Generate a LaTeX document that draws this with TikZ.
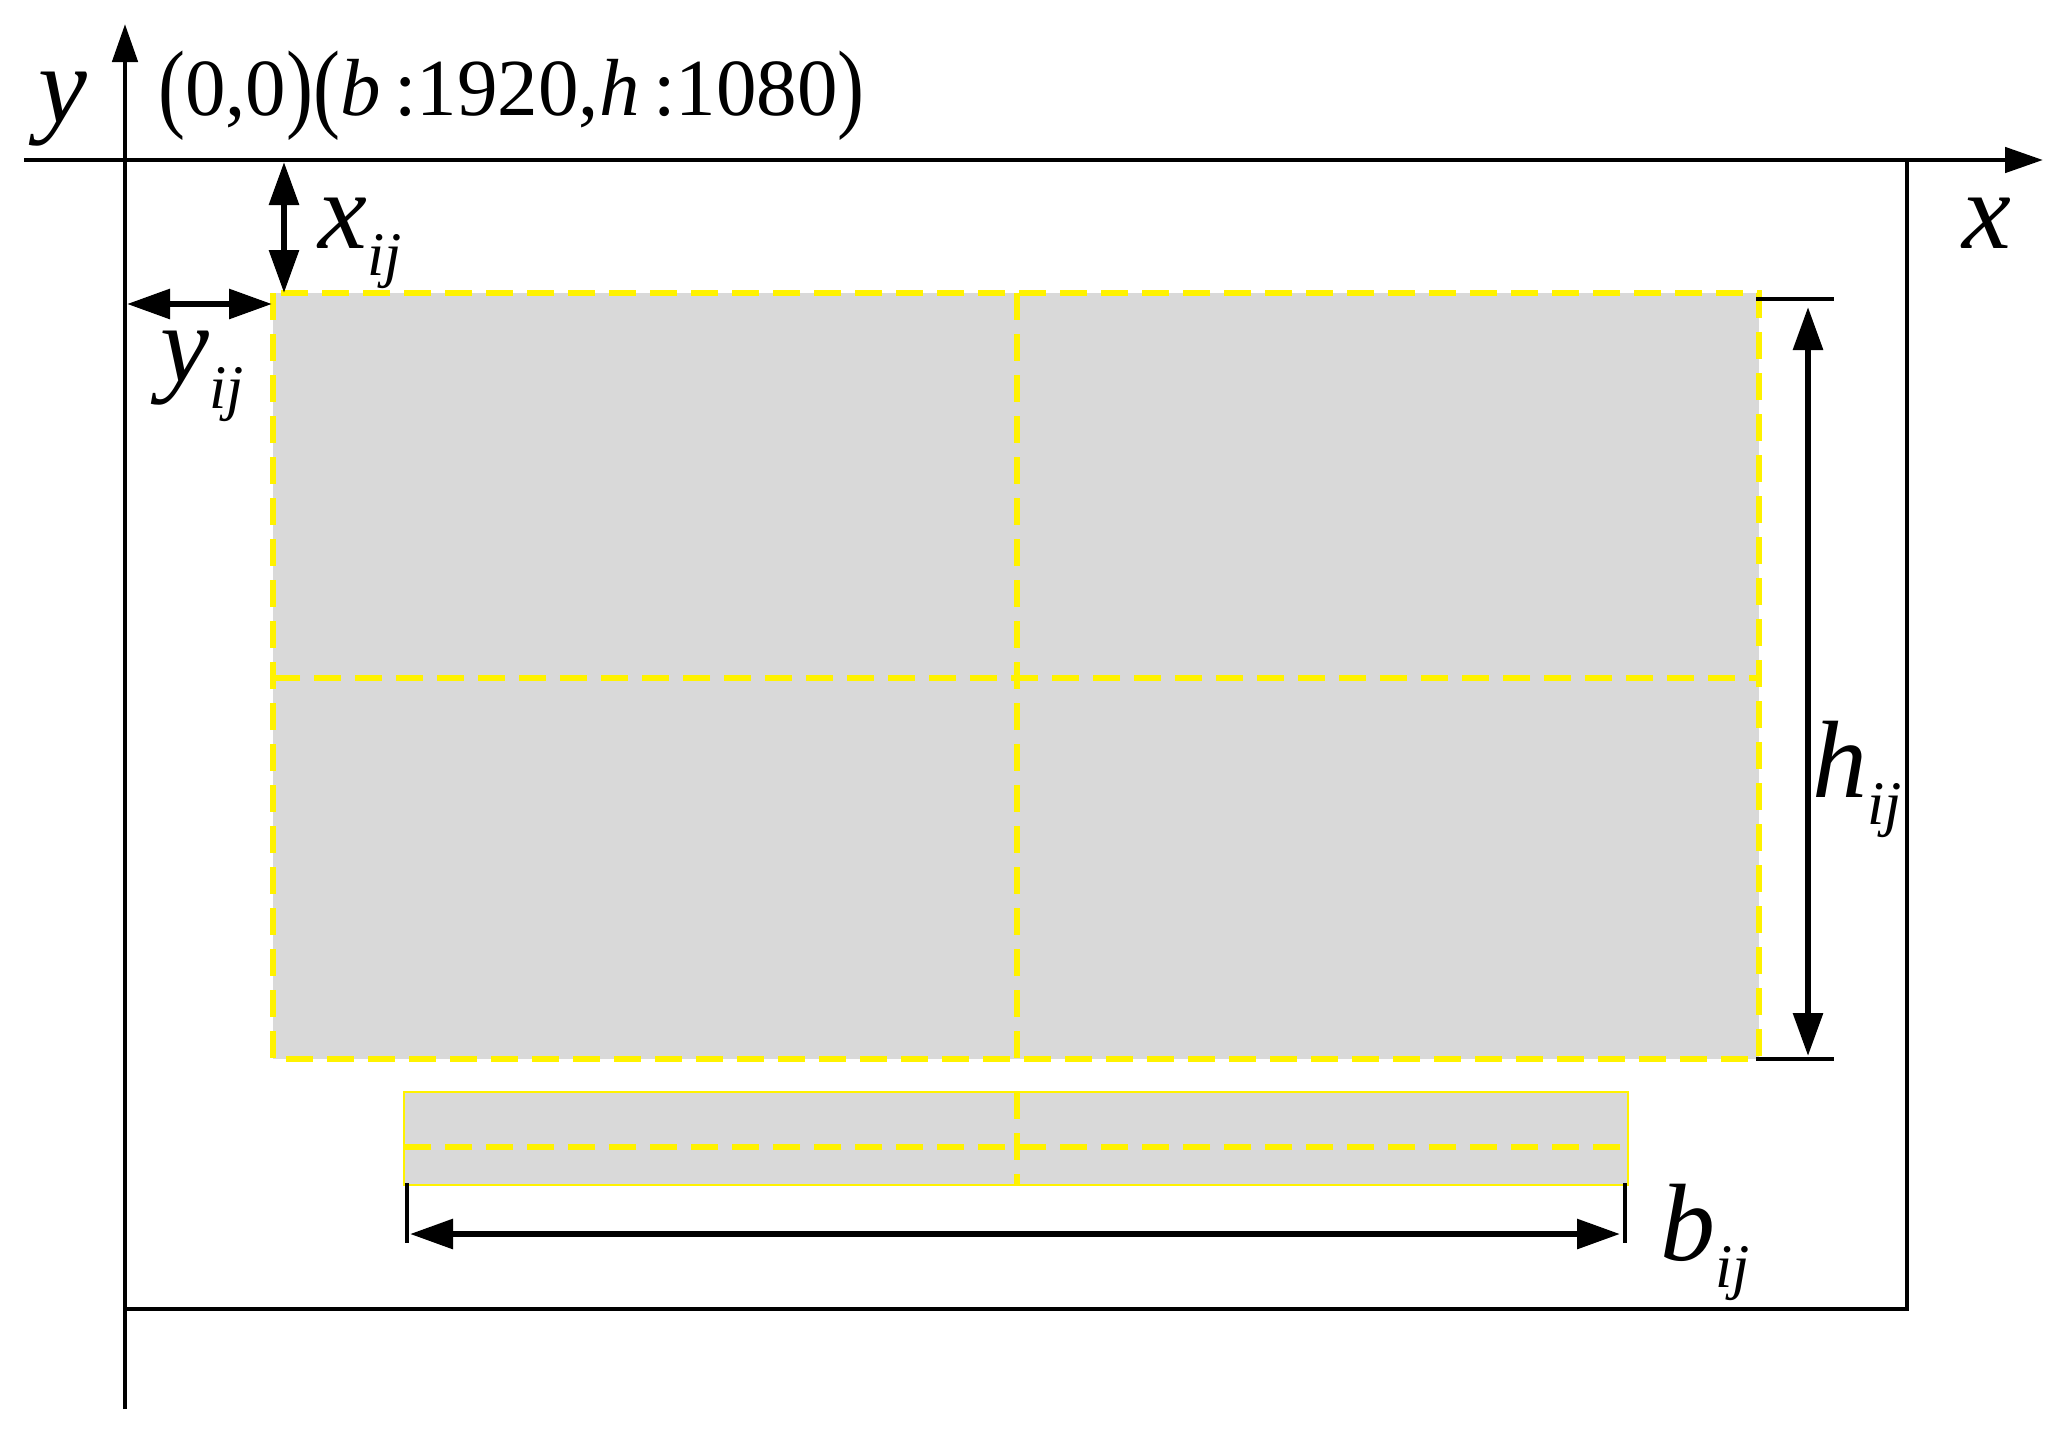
\documentclass[tikz,border=0pt]{standalone}
\usepackage{fontspec}
\usepackage{graphicx}
\setmainfont{Liberation Serif}
\usetikzlibrary{arrows.meta}
\definecolor{panelgray}{RGB}{217,217,217}
\newcommand\mysubij[1]{\raisebox{-27pt}{\fontsize{62}{62}\selectfont\itshape #1}}
\newcommand\tallparen[1]{\raisebox{-4pt}{\scalebox{1}[1.22]{#1}}}
\begin{document}
\begin{tikzpicture}[x=1pt,y=-1pt,
  axisline/.style={line width=4.8pt,-{Triangle[length=38pt,width=25pt]}},
  dimarrow/.style={line width=6pt,{Triangle[length=43pt,width=29pt]}-{Triangle[length=43pt,width=29pt]}},
  extline/.style={line width=4.8pt},
  frameline/.style={line width=4.8pt},
  ydash/.style={draw=yellow,line width=5.5pt,dash pattern=on 27pt off 14pt},
  biglbl/.style={inner sep=0pt,anchor=base west,font=\fontsize{110}{110}\selectfont\itshape},
  coordlbl/.style={inner sep=0pt,anchor=base west,font=\fontsize{81}{81}\selectfont}
]
\useasboundingbox (0,0) rectangle (2069,1432);
% coordinates
\coordinate (yTop) at (125,24);
\coordinate (yBot) at (125,1409);
\coordinate (xLeft) at (24,160);
\coordinate (xRight) at (2043,160);
\coordinate (sTR) at (1907,160);
\coordinate (sBR) at (1907,1309);
\coordinate (sBL) at (125,1309);
\coordinate (pTL) at (273,293);
\coordinate (pBR) at (1759,1059);
\coordinate (pTM) at (1017,293);
\coordinate (pBM) at (1017,1059);
\coordinate (pLM) at (273,678);
\coordinate (pRM) at (1759,678);
\coordinate (bTL) at (404,1092);
\coordinate (bBR) at (1628,1185);
\coordinate (bTM) at (1017,1092);
\coordinate (bBM) at (1017,1185);
\coordinate (bLM) at (404,1147);
\coordinate (bRM) at (1628,1147);
% panels
\fill[panelgray] (pTL) rectangle (pBR);
\draw[ydash] (pTL) rectangle (pBR);
\draw[ydash] (pTM) -- (pBM);
\draw[ydash] (pLM) -- (pRM);
\fill[panelgray] (bTL) rectangle (bBR);
\draw[yellow,line width=1.8pt] (bTL) rectangle (bBR);
\draw[ydash] (bLM) -- (bRM);
\draw[ydash] (bTM) -- (bBM);
% axes and frame
\draw[frameline] (sTR) -- (sBR) -- (sBL);
\draw[axisline] (xLeft) -- (xRight);
\draw[axisline] (yBot) -- (yTop);
% x_ij arrow
\coordinate (xa1) at (284,162);
\coordinate (xa2) at (284,293);
\draw[dimarrow] (xa1) -- (xa2);
% y_ij arrow
\coordinate (ya1) at (127,304);
\coordinate (ya2) at (272,304);
\draw[dimarrow] (ya1) -- (ya2);
% h_ij
\coordinate (hT1) at (1756,299);
\coordinate (hT2) at (1834,299);
\coordinate (hB1) at (1756,1059);
\coordinate (hB2) at (1834,1059);
\draw[extline] (hT1) -- (hT2);
\draw[extline] (hB1) -- (hB2);
\coordinate (ha1) at (1808,307);
\coordinate (ha2) at (1808,1056);
\draw[dimarrow] (ha1) -- (ha2);
% b_ij
\coordinate (bL1) at (407,1183);
\coordinate (bL2) at (407,1243);
\coordinate (bR1) at (1625,1183);
\coordinate (bR2) at (1625,1243);
\draw[extline] (bL1) -- (bL2);
\draw[extline] (bR1) -- (bR2);
\coordinate (ba1) at (410,1234);
\coordinate (ba2) at (1620,1234);
\draw[dimarrow] (ba1) -- (ba2);
% labels
\node[biglbl] (ylab) at (38,122) {y};
\node[biglbl] (xlab) at (1962,248) {x};
\node[biglbl] (xij) at (318,248) {x\mysubij{ij}};
\node[biglbl] (yij) at (160,381) {y\mysubij{ij}};
\node[biglbl] (hij) at (1812,797) {h\mysubij{ij}};
\node[biglbl] (bij) at (1660,1260) {b\mysubij{ij}};
\node[coordlbl] (coord) at (158,115) {\tallparen{(}0,0\tallparen{)}\tallparen{(}\textit{b}\,:1920,\textit{h}\,:1080\tallparen{)}};
\end{tikzpicture}
\end{document}
